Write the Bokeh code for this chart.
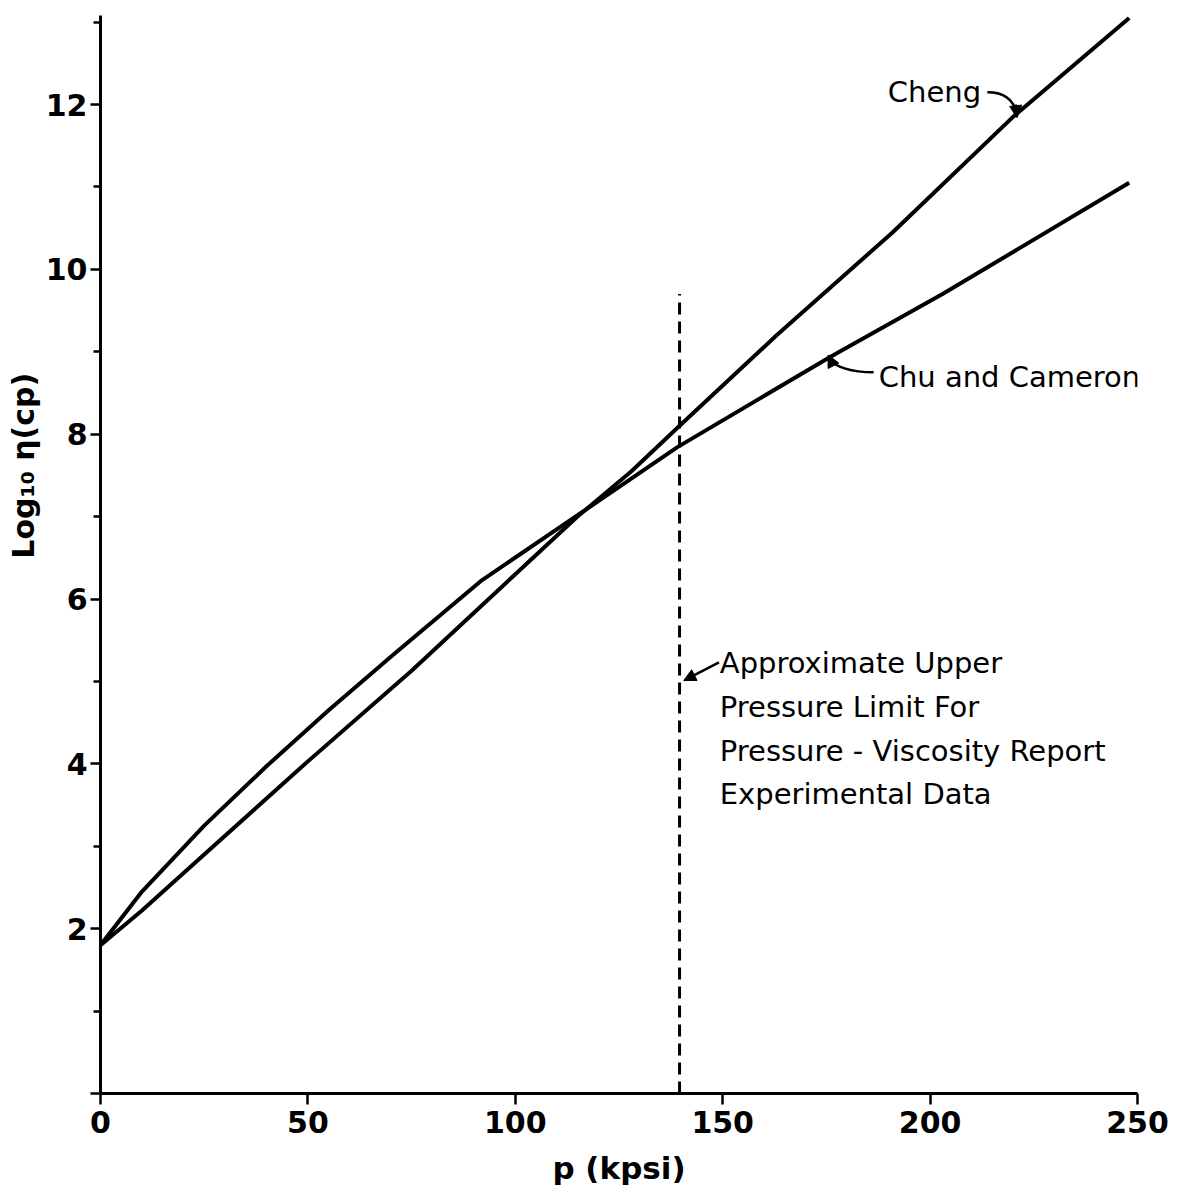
import math
from bokeh.plotting import figure
from bokeh.models import Range1d, FixedTicker, Label, Arrow, NormalHead
from bokeh.embed import file_html
from bokeh.resources import INLINE

# ---- data ----
cheng_p = [0, 10, 25, 50, 75, 100, 115, 128, 140, 163, 191, 220, 248]
cheng_log_eta = [1.8, 2.22, 2.9, 4.03, 5.13, 6.3, 7.0, 7.55, 8.12, 9.2, 10.45, 11.85, 13.05]

chu_p = [0, 10, 25, 40, 55, 70, 92, 116, 139, 176, 203, 248]
chu_log_eta = [1.8, 2.45, 3.25, 3.97, 4.65, 5.3, 6.23, 7.05, 7.84, 8.94, 9.7, 11.05]

limit_p = [139.6, 139.6]
limit_log_eta = [0.0, 9.7]

x_ticks = [0, 50, 100, 150, 200, 250]
y_ticks = [0, 2, 4, 6, 8, 10, 12]
y_minor_ticks = [1, 3, 5, 7, 9, 11, 13]

note_lines = ["Approximate Upper", "Pressure Limit For",
              "Pressure - Viscosity Report", "Experimental Data"]

FONT = "DejaVu Sans"

p = figure(width=1189, height=1204, output_backend="svg", toolbar_location=None,
           x_range=Range1d(0, 250), y_range=Range1d(0, 13.08),
           min_border_left=100, min_border_right=52, min_border_top=15,
           min_border_bottom=111)
p.outline_line_color = None
p.xgrid.visible = False
p.ygrid.visible = False
p.background_fill_color = "white"
p.border_fill_color = "white"

# axes
for ax in (p.xaxis[0], p.yaxis[0]):
    ax.axis_line_width = 3
    ax.axis_line_color = "black"
    ax.major_tick_line_width = 2.5
    ax.minor_tick_line_width = 2.5
    ax.major_tick_line_color = "black"
    ax.minor_tick_line_color = "black"
    ax.major_tick_in = 0
    ax.minor_tick_in = 0
    ax.major_label_text_font = FONT
    ax.major_label_text_font_style = "bold"
    ax.major_label_text_font_size = "30px"
    ax.major_label_text_color = "black"
    ax.axis_label_text_font = FONT
    ax.axis_label_text_font_style = "bold"
    ax.axis_label_text_color = "black"

p.xaxis.ticker = FixedTicker(ticks=x_ticks, minor_ticks=[])
p.xaxis.major_tick_out = 11
p.xaxis.major_label_standoff = 6
p.xaxis.axis_label = "p (kpsi)"
p.xaxis.axis_label_text_font_size = "31px"
p.xaxis.axis_label_standoff = 14

p.yaxis.ticker = FixedTicker(ticks=y_ticks, minor_ticks=y_minor_ticks)
p.yaxis.major_tick_out = 10
p.yaxis.minor_tick_out = 7
p.yaxis.major_label_standoff = 3
p.yaxis.major_label_orientation = "horizontal"
p.yaxis.major_label_overrides = {0: ""}
# leading no-break spaces lift the visible title above the axis centre, as in the reference
p.yaxis.axis_label = "\u00a0" * 17 + "Log\u2081\u2080 \u03b7(cp)"
p.yaxis.axis_label_text_font_size = "30px"
p.yaxis.axis_label_standoff = 2

# curves
p.line(cheng_p, cheng_log_eta, line_color="black", line_width=4, line_join="round")
p.line(chu_p, chu_log_eta, line_color="black", line_width=4, line_join="round")
p.line(limit_p, limit_log_eta, line_color="black", line_width=3, line_dash="12 7")

# annotations
txt = dict(text_font=FONT, text_font_size="29px", text_color="black", text_baseline="middle")
p.add_layout(Label(x=212.3, y=12.15, text="Cheng", text_align="right", **txt))
p.bezier(x0=[213.8], y0=[12.15], x1=[220.8], y1=[11.9], cx0=[217.7], cy0=[12.15],
         cx1=[220.1], cy1=[12.06], line_color="black", line_width=2.5)
p.add_layout(Arrow(x_start=220.6, y_start=12.0, x_end=220.95, y_end=11.84,
                   line_color="black", line_width=2.5,
                   end=NormalHead(size=12, fill_color="black", line_color="black")))

p.add_layout(Label(x=187.6, y=8.69, text="Chu and Cameron", text_align="left", **txt))
p.bezier(x0=[186.4], y0=[8.75], x1=[176.0], y1=[8.9], cx0=[180.8], cy0=[8.75],
         cx1=[177.2], cy1=[8.82], line_color="black", line_width=2.5)
p.add_layout(Arrow(x_start=176.4, y_start=8.86, x_end=175.4, y_end=8.96,
                   line_color="black", line_width=2.5,
                   end=NormalHead(size=12, fill_color="black", line_color="black")))

note_y = [5.22, 4.69, 4.16, 3.64]
for t, yy in zip(note_lines, note_y):
    p.add_layout(Label(x=149.3, y=yy, text=t, text_align="left", **txt))
p.add_layout(Arrow(x_start=149.1, y_start=5.23, x_end=140.6, y_end=5.01,
                   line_color="black", line_width=2.5,
                   end=NormalHead(size=12, fill_color="black", line_color="black")))

open("out.html", "w").write(file_html(p, INLINE))
